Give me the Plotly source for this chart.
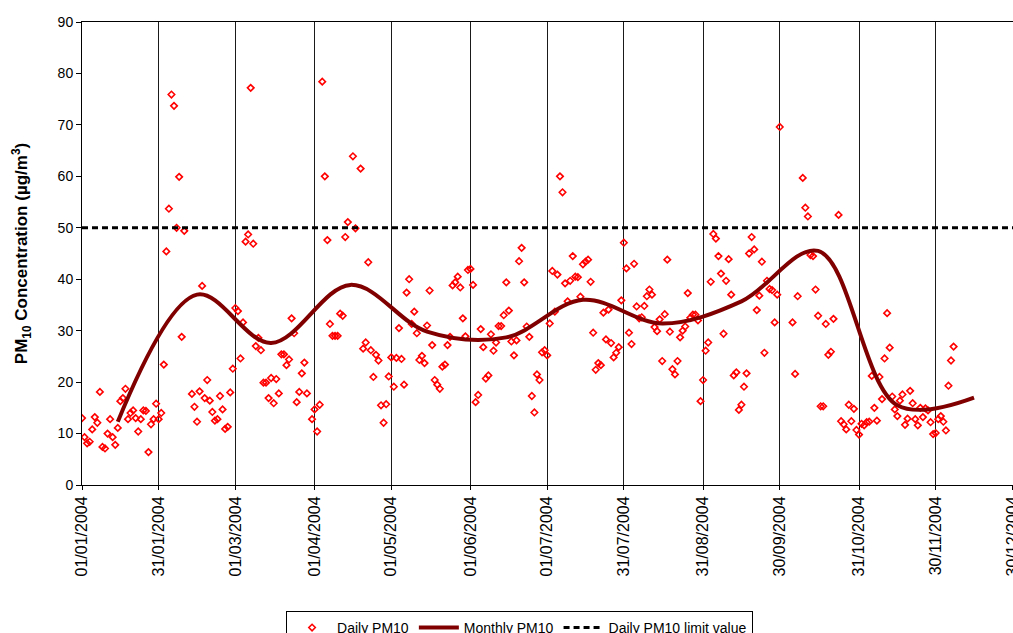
import plotly.graph_objects as go
from datetime import date, timedelta

# ---- data ----
day_index = [0, 1, 2, 3, 4, 5, 6, 7, 8, 9, 10, 11, 12, 13, 14, 15, 16, 17, 18, 19,
             20, 21, 22, 23, 24, 25, 26, 27, 28, 29, 30, 31, 32, 33, 34, 35, 36, 37, 38, 39,
             40, 43, 44, 45, 46, 47, 48, 49, 50, 51, 52, 53, 54, 55, 56, 57, 58, 59, 60, 61,
             62, 63, 64, 65, 66, 67, 68, 69, 70, 71, 72, 73, 74, 75, 76, 77, 78, 79, 80, 81,
             82, 83, 84, 85, 86, 87, 88, 90, 91, 92, 93, 94, 95, 96, 97, 98, 99, 100, 101, 102,
             103, 104, 106, 107, 109, 110, 111, 112, 113, 114, 115, 116, 117, 118, 119, 120, 121, 122, 123, 124,
             125, 126, 127, 128, 129, 130, 131, 132, 133, 134, 135, 136, 137, 138, 139, 140, 141, 142, 143, 144,
             145, 146, 147, 148, 149, 150, 151, 152, 153, 154, 155, 156, 157, 158, 159, 160, 161, 162, 163, 164,
             165, 166, 167, 168, 169, 170, 171, 172, 173, 174, 175, 176, 177, 178, 179, 180, 181, 182, 183, 184,
             185, 186, 187, 188, 189, 190, 191, 192, 193, 194, 195, 196, 197, 198, 199, 200, 201, 202, 203, 204,
             205, 206, 207, 208, 209, 210, 211, 212, 213, 214, 215, 216, 217, 218, 219, 220, 221, 222, 223, 224,
             225, 226, 227, 228, 229, 230, 231, 232, 233, 234, 235, 236, 237, 238, 239, 240, 241, 242, 243, 244,
             245, 246, 247, 248, 249, 250, 251, 252, 253, 254, 255, 256, 257, 258, 259, 260, 261, 262, 263, 264,
             265, 266, 267, 268, 269, 270, 271, 272, 273, 278, 279, 280, 282, 283, 284, 285, 286, 287, 288, 289,
             290, 291, 292, 293, 294, 296, 297, 298, 299, 300, 301, 302, 303, 304, 305, 306, 307, 308, 309, 310,
             311, 312, 313, 314, 315, 316, 317, 318, 319, 320, 321, 322, 323, 324, 325, 326, 327, 328, 329, 330,
             331, 332, 333, 334, 335, 336, 337, 338, 339, 340, 341]

daily_pm10 = [13.0, 9.3, 8.1, 8.4, 10.8, 13.2, 12.1, 18.1, 7.4, 7.1, 10.0, 12.8, 9.3, 7.8, 11.1, 16.3, 16.9, 18.7, 12.8, 14.0,
              14.5, 13.0, 10.4, 12.8, 14.5, 14.4, 6.4, 11.8, 12.8, 15.8, 12.8, 14.0, 23.4, 45.4, 53.7, 75.9, 73.7, 50.0, 59.9, 28.8,
              49.4, 17.7, 15.2, 12.3, 18.2, 38.7, 16.9, 20.4, 16.4, 14.2, 12.5, 12.8, 17.3, 14.7, 10.9, 11.3, 18.0, 22.6, 34.4, 33.8,
              24.6, 31.6, 47.3, 48.7, 77.2, 46.9, 27.0, 28.6, 26.2, 19.9, 19.9, 16.9, 20.8, 15.9, 20.6, 17.8, 25.4, 25.4, 23.3, 24.4,
              32.4, 29.5, 16.1, 18.1, 21.7, 23.8, 17.8, 12.8, 14.7, 10.4, 15.6, 78.4, 60.0, 47.6, 31.3, 29.0, 29.0, 29.0, 33.3, 32.9,
              48.2, 51.1, 63.9, 49.9, 61.5, 26.5, 27.7, 43.3, 26.2, 21.0, 25.3, 24.2, 15.5, 12.1, 15.7, 21.1, 24.8, 19.1, 24.7, 30.5,
              24.5, 19.5, 37.4, 40.0, 31.3, 33.7, 29.5, 24.3, 25.1, 23.7, 31.0, 37.8, 27.2, 20.4, 19.5, 18.7, 23.0, 23.4, 27.2, 28.8,
              38.8, 39.4, 40.5, 38.4, 32.4, 28.9, 41.8, 42.0, 38.9, 16.1, 17.5, 30.3, 26.8, 20.7, 21.3, 29.3, 26.1, 27.7, 30.9, 30.9,
              33.0, 39.4, 33.9, 27.9, 25.2, 28.1, 43.5, 46.1, 39.4, 30.8, 28.8, 17.3, 14.1, 21.5, 20.4, 25.8, 26.2, 25.2, 31.4, 41.6,
              33.7, 40.9, 60.0, 56.9, 39.2, 35.7, 39.7, 44.5, 40.5, 40.4, 36.6, 42.9, 43.4, 43.8, 39.5, 29.6, 22.4, 23.7, 23.3, 33.5,
              28.3, 34.1, 27.6, 24.8, 25.7, 26.8, 35.9, 47.1, 42.1, 29.6, 27.4, 43.0, 34.7, 32.4, 32.6, 34.8, 36.7, 38.0, 37.0, 30.7,
              29.9, 32.2, 24.1, 33.2, 43.8, 29.8, 22.5, 21.5, 24.1, 28.7, 30.0, 30.8, 37.3, 32.5, 33.1, 33.1, 32.0, 16.3, 20.4, 26.1,
              27.7, 39.5, 48.8, 47.9, 44.5, 41.1, 29.4, 39.7, 43.9, 37.0, 21.3, 21.9, 14.6, 15.6, 19.1, 21.7, 45.0, 48.2, 45.8, 34.0,
              36.8, 43.4, 25.7, 39.7, 38.1, 37.9, 31.6, 37.0, 69.6, 31.6, 21.6, 36.7, 59.7, 53.9, 52.2, 44.7, 44.5, 38.0, 32.9, 15.3,
              15.3, 31.3, 25.3, 25.9, 32.3, 52.5, 12.4, 11.8, 10.8, 15.6, 12.4, 14.8, 10.7, 9.8, 11.9, 11.6, 12.2, 12.3, 21.2, 15.0,
              12.5, 21.0, 16.7, 24.6, 33.4, 26.7, 17.2, 14.7, 13.4, 16.4, 17.6, 11.7, 12.9, 18.3, 15.9, 12.8, 11.6, 15.0, 13.2, 14.9,
              14.5, 12.2, 9.9, 10.1, 12.8, 13.4, 12.3, 10.6, 19.3, 24.2, 26.9]

month_mid = ["2004-01-15", "2004-02-15", "2004-03-15", "2004-04-15", "2004-05-15", "2004-06-15",
             "2004-07-15", "2004-08-15", "2004-09-15", "2004-10-15", "2004-11-15", "2004-12-15"]
monthly_pm10 = [12.3, 37.0, 27.6, 38.9, 29.8, 28.7, 36.0, 31.4, 35.7, 45.5, 15.5, 17.0]

limit_value = 50
x_range = ["2004-01-01", "2004-12-30 06:00"]
x_ticks = ["2004-01-01", "2004-01-31", "2004-03-01", "2004-04-01", "2004-05-01", "2004-06-01",
           "2004-07-01", "2004-07-31", "2004-08-31", "2004-09-30", "2004-10-31", "2004-11-30", "2004-12-30"]

start = date(2004, 1, 1)
daily_dates = [(start + timedelta(days=d)).isoformat() for d in day_index]

FONT = "Liberation Sans, Arial, sans-serif"

fig = go.Figure()
fig.add_trace(go.Scatter(
    x=daily_dates, y=daily_pm10, mode="markers", name="Daily PM10",
    marker=dict(symbol="diamond-open", size=5, color="#ff0000", line=dict(width=1.6, color="#ff0000")),
))
fig.add_trace(go.Scatter(
    x=month_mid, y=monthly_pm10, mode="lines", name="Monthly PM10",
    line=dict(color="#800000", width=4, shape="spline", smoothing=1.0),
))
fig.add_trace(go.Scatter(
    x=x_range, y=[limit_value, limit_value], mode="lines", name="Daily PM10 limit value",
    line=dict(color="#000000", width=3, dash="6px,4px"),
))

fig.update_layout(
    width=1013, height=633,
    margin=dict(l=82, r=0, t=22, b=148, autoexpand=False),
    paper_bgcolor="white", plot_bgcolor="white",
    font=dict(family=FONT, size=14, color="black"),
    showlegend=True,
    legend=dict(orientation="h", x=0.47, xanchor="center", y=-0.272, yanchor="top",
                bordercolor="black", borderwidth=1, font=dict(size=14, family=FONT),
                itemwidth=40, tracegroupgap=0),
)
fig.update_xaxes(
    type="date", range=x_range, tickvals=x_ticks, tickformat="%d/%m/%Y", tickangle=-90,
    showgrid=True, gridcolor="#1a1a1a", gridwidth=1,
    showline=True, linecolor="black", linewidth=1, mirror=True,
    ticks="outside", ticklen=4, tickcolor="black", automargin=False,
    ticklabeloverflow="allow",
    tickfont=dict(size=16, family=FONT),
)
fig.update_yaxes(
    range=[0, 90], dtick=10, showgrid=False,
    zeroline=True, zerolinecolor="black", zerolinewidth=2,
    showline=True, linecolor="black", linewidth=1,
    ticks="outside", ticklen=5, tickcolor="black", automargin=False,
    tickfont=dict(size=14, family=FONT),
    title=dict(text="<b>PM<sub>10</sub> Concentration (µg/m<sup>3</sup>)</b>",
               font=dict(size=17, family=FONT), standoff=25),
)

fig.write_html("out.html", config={"displayModeBar": False},
               post_script="document.body.style.margin='0';")
